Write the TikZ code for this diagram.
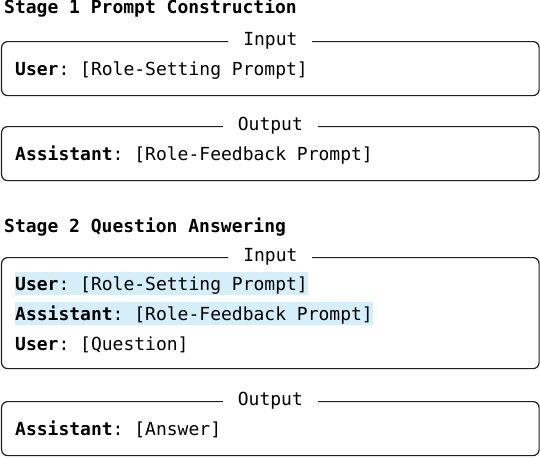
\documentclass[tikz,border=0pt]{standalone}
\usepackage{fontspec}
\setmonofont{DejaVu Sans Mono}
\definecolor{hlblue}{RGB}{212,239,250}
\definecolor{edge}{RGB}{30,30,30}
\begin{document}
\begin{tikzpicture}[x=1pt,y=1pt,
  mono/.style={font=\ttfamily\fontsize{18}{21}\selectfont},
  box/.style={draw=edge, line width=1.2pt, rounded corners=6pt, minimum width=537.5pt, anchor=north west, inner sep=0pt},
  ttl/.style={mono, fill=white, inner xsep=15pt, inner ysep=1pt},
  txt/.style={mono, anchor=base west, inner sep=0pt},
  hl/.style={txt, fill=hlblue, text height=18pt, text depth=5pt, inner xsep=0pt},
  head/.style={txt}]
\useasboundingbox (0,0) rectangle (540,-458);

\node[head] (h1) at (4,-13.5) {\textbf{Stage 1 Prompt Construction}};

\node[box, minimum height=54pt] (b1) at (1,-41) {};
\node[ttl] (t1) at (b1.north) {Input};
\node[txt] (l1) at (15,-75) {\textbf{User}: [Role-Setting Prompt]};

\node[box, minimum height=54pt] (b2) at (1,-126) {};
\node[ttl] (t2) at (b2.north) {Output};
\node[txt] (l2) at (15,-160) {\textbf{Assistant}: [Role-Feedback Prompt]};

\node[head] (h2) at (4,-232.7) {\textbf{Stage 2 Question Answering}};

\node[box, minimum height=111pt] (b3) at (1,-257) {};
\node[ttl] (t3) at (b3.north) {Input};
\node[hl] (l3) at (15,-290) {\textbf{User}: [Role-Setting Prompt]\hspace{4pt}};
\node[hl] (l4) at (15,-320) {\textbf{Assistant}: [Role-Feedback Prompt]\hspace{3pt}};
\node[txt] (l5) at (15,-350) {\textbf{User}: [Question]};

\node[box, minimum height=54pt] (b4) at (1,-401) {};
\node[ttl] (t4) at (b4.north) {Output};
\node[txt] (l6) at (15,-435) {\textbf{Assistant}: [Answer]};
\end{tikzpicture}
\end{document}
